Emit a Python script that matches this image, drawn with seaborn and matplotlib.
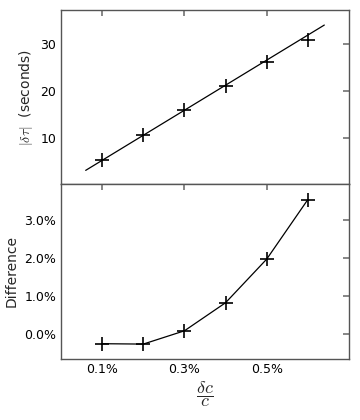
import numpy as np
import pandas as pd
import matplotlib
matplotlib.use("Agg")
import matplotlib.pyplot as plt
import seaborn as sns
from matplotlib.ticker import FuncFormatter

# relative change in speed of sound
dc_over_c = [0.001, 0.002, 0.003, 0.004, 0.005, 0.006]
# measured |delta tau| in seconds
delta_tau = [5.3, 10.8, 16.0, 21.1, 26.2, 30.9]
# linear fit end points
fit_x = [0.0006, 0.0064]
fit_y = [3.2, 34.1]
# relative difference between measured and linear prediction
difference = [-0.0025, -0.0026, 0.0009, 0.0083, 0.0198, 0.0355]

x_ticks = [0.001, 0.003, 0.005]

sns.set_theme(style="white")
plt.rcParams.update({
    "font.family": ["DejaVu Sans"],
    "mathtext.fontset": "cm",
    "xtick.direction": "in",
    "ytick.direction": "in",
    "xtick.top": True,
    "ytick.right": True,
    "xtick.major.size": 4,
    "ytick.major.size": 4,
    "xtick.color": "#777777",
    "ytick.color": "#777777",
    "xtick.labelcolor": "black",
    "ytick.labelcolor": "black",
    "axes.edgecolor": "#555555",
    "axes.linewidth": 1.0,
    "xtick.labelsize": 9,
    "ytick.labelsize": 9,
})

df_top = pd.DataFrame({"x": dc_over_c, "y": delta_tau})
df_fit = pd.DataFrame({"x": fit_x, "y": fit_y})
df_bot = pd.DataFrame({"x": dc_over_c, "y": difference})

fig = plt.figure(figsize=(3.6, 4.2), dpi=100)
ax1 = fig.add_axes([61 / 360, 1 - 184 / 420, 288 / 360, 174 / 420])
ax2 = fig.add_axes([61 / 360, 1 - 358.5 / 420, 288 / 360, 174.5 / 420], sharex=ax1)

sns.lineplot(data=df_fit, x="x", y="y", ax=ax1, color="black", linewidth=0.9)
sns.scatterplot(data=df_top, x="x", y="y", ax=ax1, marker="+", s=110,
                color="black", linewidth=1.2)
sns.lineplot(data=df_bot, x="x", y="y", ax=ax2, color="black", linewidth=0.9,
             marker="+", markersize=10, markeredgewidth=1.2, markeredgecolor="black")

ax1.set_xlim(0.0, 0.007)
ax1.set_ylim(0.3, 37.3)
ax1.set_yticks([10, 20, 30])
ax1.set_xticks(x_ticks)
ax1.tick_params(labelbottom=False)
ax1.set_xlabel("")
ax1.set_ylabel(r"$|\delta\tau|$  (seconds)", fontsize=10)

ax2.set_ylim(-0.0064, 0.0396)
ax2.set_yticks([0.0, 0.01, 0.02, 0.03])
ax2.yaxis.set_major_formatter(FuncFormatter(lambda v, p: f"{v * 100:.1f}%"))
ax2.xaxis.set_major_formatter(FuncFormatter(lambda v, p: f"{v * 100:.1f}%"))
ax2.set_ylabel("Difference", fontsize=10)
ax2.set_xlabel(r"$\dfrac{\delta c}{c}$", fontsize=13, labelpad=2)

fig.savefig("out.png", dpi=100)
